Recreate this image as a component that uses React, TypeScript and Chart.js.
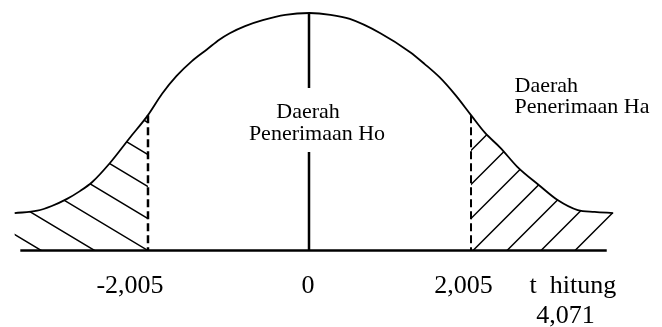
import React, { useEffect, useRef } from 'react';
import { Chart, registerables } from 'chart.js';

Chart.register(...registerables);

// Bell curve (t value, height)
const CURVE_T = [-3.66, -3.38, -3.2, -3.01, -2.85, -2.7, -2.48, -2.23, -2.005, -1.83, -1.65, -1.46, -1.27, -1.12, -0.99, -0.8, -0.58, -0.3, 0, 0.26, 0.5, 0.88, 1.25, 1.43, 1.62, 1.81, 2.005, 2.18, 2.37, 2.58, 2.85, 3.08, 3.33, 3.54, 3.77];
const CURVE_V = [0.063, 0.067, 0.075, 0.087, 0.1, 0.115, 0.147, 0.19, 0.228, 0.264, 0.294, 0.319, 0.339, 0.355, 0.366, 0.378, 0.388, 0.397, 0.4, 0.397, 0.39, 0.366, 0.334, 0.314, 0.291, 0.262, 0.228, 0.198, 0.173, 0.141, 0.11, 0.085, 0.068, 0.065, 0.063];
const BASELINE_T = [-3.59, 3.69];
const CRITICAL_T = [-2.005, 2.005];
const TICK_VALUES = [-2.005, 0, 2.005];
const TICK_LABELS = ['-2,005', '0', '2,005'];
const T_HITUNG_LABELS = ['t  hitung', '4,071'];
const REGION_HO = ['Daerah', 'Penerimaan Ho'];
const REGION_HA = ['Daerah', 'Penerimaan Ha'];

const TICK_OFFSETS = [-18, -1.5, -7.5];

const overlayPlugin = {
  id: 'overlay',
  afterDatasetsDraw(chart: any) {
    const ctx: CanvasRenderingContext2D = chart.ctx;
    const xs = chart.scales.x;
    const ys = chart.scales.y;
    const meta = chart.getDatasetMeta(0);
    const line = meta.dataset;
    const pts = meta.data;
    const by = ys.getPixelForValue(0);
    const xL = xs.getPixelForValue(CRITICAL_T[0]);
    const xR = xs.getPixelForValue(CRITICAL_T[1]);
    const x0 = xs.getPixelForValue(0);
    const curveY = (px: number) => {
      const p = line.interpolate({ x: px }, 'x');
      if (!p) return by;
      return Array.isArray(p) ? p[0].y : p.y;
    };
    const region = () => {
      ctx.beginPath();
      line.path(ctx);
      ctx.lineTo(pts[pts.length - 1].x, by);
      ctx.lineTo(pts[0].x, by);
      ctx.closePath();
    };

    ctx.save();
    ctx.strokeStyle = '#000';
    ctx.fillStyle = '#000';

    // left hatching "\"
    ctx.save();
    region();
    ctx.clip();
    ctx.beginPath();
    ctx.rect(0, 0, xL, chart.height);
    ctx.clip();
    ctx.lineWidth = 1.5;
    ctx.beginPath();
    for (let k = -6; k <= 10; k++) {
      const y0 = by - k * 32;
      ctx.moveTo(xL - 400, y0 - 0.6 * 400);
      ctx.lineTo(xL, y0);
    }
    ctx.stroke();
    ctx.restore();

    // right hatching "/"
    ctx.save();
    region();
    ctx.clip();
    ctx.beginPath();
    ctx.rect(xR, 0, chart.width - xR, chart.height);
    ctx.clip();
    ctx.lineWidth = 1.5;
    ctx.beginPath();
    for (let k = -8; k <= 3; k++) {
      const xb = xR + 2 + k * 34;
      ctx.moveTo(xb, by);
      ctx.lineTo(xb + 300, by - 300);
    }
    ctx.stroke();
    ctx.restore();

    // dashed critical lines
    ctx.save();
    ctx.setLineDash([8, 4]);
    ctx.lineWidth = 2.5;
    ctx.beginPath();
    ctx.moveTo(xL, curveY(xL));
    ctx.lineTo(xL, by);
    ctx.stroke();
    ctx.lineWidth = 2;
    ctx.beginPath();
    ctx.moveTo(xR, curveY(xR));
    ctx.lineTo(xR, by);
    ctx.stroke();
    ctx.restore();

    // center line with gap for label
    ctx.lineWidth = 2.5;
    ctx.beginPath();
    ctx.moveTo(x0 - 0.5, curveY(x0));
    ctx.lineTo(x0 - 0.5, by - 162.5);
    ctx.moveTo(x0 - 0.5, by - 98.5);
    ctx.lineTo(x0 - 0.5, by);
    ctx.stroke();

    // tick labels
    ctx.font = '26px "Liberation Serif"';
    ctx.textAlign = 'center';
    ctx.textBaseline = 'alphabetic';
    TICK_VALUES.forEach((v, i) => {
      ctx.fillText(TICK_LABELS[i], xs.getPixelForValue(v) + TICK_OFFSETS[i], by + 42.5);
    });
    ctx.textAlign = 'left';
    ctx.fillText(T_HITUNG_LABELS[0], xR + 58.5, by + 42.5);
    ctx.textAlign = 'center';
    ctx.fillText(T_HITUNG_LABELS[1], xR + 94.5, by + 72.5);

    // region labels
    ctx.font = '22px "Liberation Serif"';
    ctx.textAlign = 'center';
    ctx.fillText(REGION_HO[0], x0 - 1.5, by - 132.5);
    ctx.fillText(REGION_HO[1], x0 + 7.5, by - 110.5);
    ctx.textAlign = 'left';
    ctx.fillText(REGION_HA[0], xR + 43.5, by - 158.5);
    ctx.fillText(REGION_HA[1], xR + 43.5, by - 137.5);

    ctx.restore();
  },
};

export default function App() {
  const ref = useRef<HTMLCanvasElement>(null);
  useEffect(() => {
    if (!ref.current) return;
    const chart = new Chart(ref.current, {
      type: 'line',
      data: {
        datasets: [
          {
            data: CURVE_T.map((t, i) => ({ x: t, y: CURVE_V[i] })),
            borderColor: '#000',
            borderWidth: 1.8,
            pointRadius: 0,
            cubicInterpolationMode: 'monotone',
            fill: false,
            clip: false,
          } as any,
          {
            data: BASELINE_T.map((t) => ({ x: t, y: 0 })),
            borderColor: '#000',
            borderWidth: 2.5,
            pointRadius: 0,
            tension: 0,
            fill: false,
            clip: false,
          } as any,
        ],
      },
      options: {
        animation: false,
        responsive: false,
        devicePixelRatio: 1,
        layout: { padding: { left: 3.4, right: 46.4, top: 13, bottom: 76.5 } },
        scales: {
          x: { type: 'linear', min: -3.8, max: 3.8, display: false },
          y: { type: 'linear', min: 0, max: 0.4, display: false },
        },
        plugins: { legend: { display: false }, tooltip: { enabled: false } },
      },
      plugins: [overlayPlugin],
    });
    return () => chart.destroy();
  }, []);
  return (
    <div style={{ position: 'fixed', left: 0, top: 0, width: 662, height: 327, background: '#fff' }}>
      <canvas ref={ref} width={662} height={327} style={{ display: 'block' }} />
    </div>
  );
}
